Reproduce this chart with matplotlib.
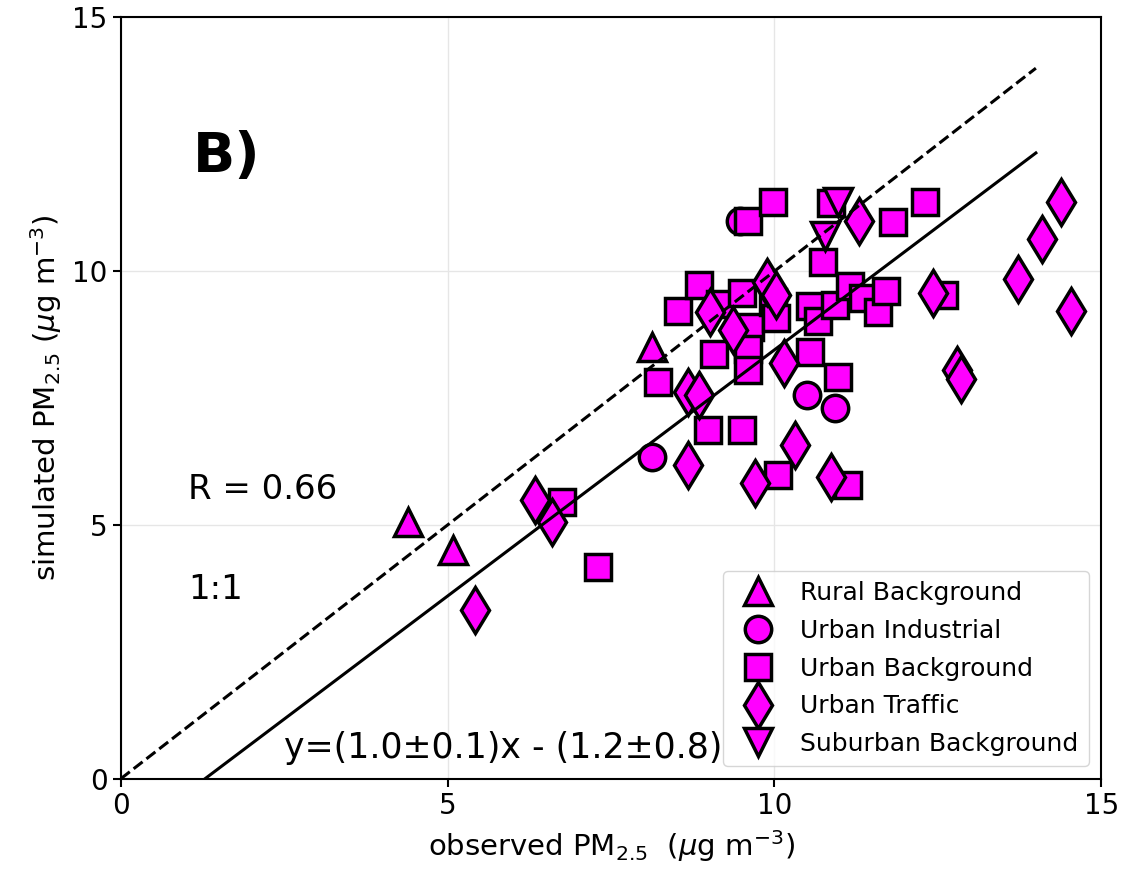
import numpy as np
from matplotlib import pyplot as plt

# observed / simulated PM2.5 per station type
rural_obs = [4.40, 5.08, 8.12]
rural_sim = [5.06, 4.51, 8.50]

industrial_obs = [8.13, 9.48, 10.50, 10.93]
industrial_sim = [6.33, 10.98, 7.57, 7.31]

urban_bg_obs = [7.30, 6.75, 8.22, 8.53, 8.85, 9.07, 9.17, 9.51, 9.63, 9.59, 9.59,
                9.51, 8.99, 9.60, 9.98, 9.98, 10.02, 10.05, 10.55, 10.67, 10.55,
                10.75, 10.86, 10.93, 10.98, 11.13, 11.16, 11.35, 11.59, 11.70,
                11.81, 12.31, 12.59]
urban_bg_sim = [4.17, 5.46, 7.81, 9.21, 9.72, 8.36, 9.35, 9.58, 8.91, 8.46, 8.06,
                6.88, 6.88, 10.98, 11.36, 9.40, 9.08, 5.99, 9.31, 9.01, 8.40,
                10.19, 11.34, 9.34, 7.92, 5.79, 9.70, 9.48, 9.19, 9.60,
                10.96, 11.36, 9.54]

traffic_obs = [5.42, 6.34, 6.60, 8.67, 8.68, 8.84, 9.02, 9.36, 9.71, 9.89, 10.02,
               10.14, 10.32, 10.86, 11.29, 12.42, 12.80, 12.86, 13.72, 14.10,
               14.38, 14.53]
traffic_sim = [3.32, 5.50, 5.06, 6.19, 7.61, 7.57, 9.19, 8.85, 5.83, 9.78, 9.54,
               8.20, 6.58, 5.95, 10.98, 9.58, 8.06, 7.87, 9.84, 10.63,
               11.36, 9.21]

suburban_obs = [10.98, 10.78]
suburban_sim = [11.36, 10.69]

slope, intercept = 0.97, -1.25
r_value = 0.66

fig = plt.figure(figsize=(11.4, 8.72), dpi=100)
ax = fig.add_axes([0.106, 0.107, 0.86, 0.873])

style = dict(linestyle='none', markerfacecolor='magenta', markeredgecolor='black',
             markeredgewidth=2.5)
ax.plot(rural_obs, rural_sim, marker='^', markersize=20, label='Rural Background', **style)
ax.plot(industrial_obs, industrial_sim, marker='o', markersize=19, label='Urban Industrial', **style)
ax.plot(urban_bg_obs, urban_bg_sim, marker='s', markersize=19, label='Urban Background', **style)
ax.plot(traffic_obs, traffic_sim, marker='d', markersize=23, label='Urban Traffic', **style)
ax.plot(suburban_obs, suburban_sim, marker='v', markersize=20, label='Suburban Background', **style)

# 1:1 and regression lines
xx = np.array([0, 14])
ax.plot(xx, xx, 'k--', linewidth=2.2)
ax.plot(xx, slope * xx + intercept, 'k-', linewidth=2.2)

ax.set_xlim(0, 15)
ax.set_ylim(0, 15)
ax.set_xticks([0, 5, 10, 15])
ax.set_yticks([0, 5, 10, 15])
ax.tick_params(labelsize=20, width=1.5, length=6)
ax.grid(True, color='#e6e6e6', linewidth=1)
ax.set_axisbelow(True)
for s in ax.spines.values():
    s.set_linewidth(1.5)

ax.set_xlabel(r'observed PM$_{2.5}$  ($\mu$g m$^{-3}$)', fontsize=21, labelpad=6)
ax.set_ylabel(r'simulated PM$_{2.5}$ ($\mu$g m$^{-3}$)', fontsize=21, labelpad=6)

ax.text(1.1, 12.25, 'B)', fontsize=40, fontweight='bold', va='center')
ax.text(1.03, 5.69, f'R = {r_value:.2f}', fontsize=24.5, va='center')
ax.text(1.03, 3.72, '1:1', fontsize=24.5, va='center')
ax.text(2.5, 0.6, 'y=(1.0±0.1)x - (1.2±0.8)', fontsize=25, va='center')

ax.legend(loc='lower right', fontsize=18, markerscale=1.0, handletextpad=0.7,
          labelspacing=0.55)

plt.savefig('out.png', dpi=100)
plt.close()
